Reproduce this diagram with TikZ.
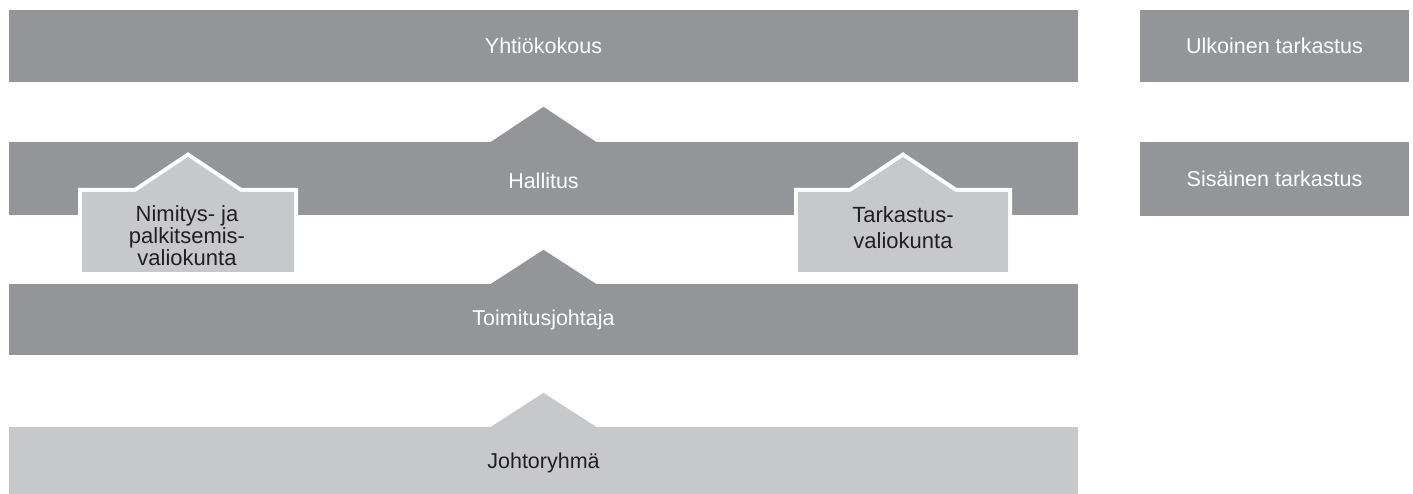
\documentclass[tikz,border=0pt]{standalone}
\usepackage{fontspec}
\setmainfont{Liberation Sans}
\definecolor{darkg}{HTML}{939598}
\definecolor{lightg}{HTML}{C7C8CA}
\definecolor{ink}{HTML}{231F20}
\tikzset{
  bar/.style={fill=darkg, draw=none, inner sep=0pt, text=white, font=\fontsize{21.5}{25}\selectfont},
  lbar/.style={fill=lightg, draw=none, inner sep=0pt, text=ink, font=\fontsize{21.5}{25}\selectfont},
  boxtext/.style={inner sep=0pt, text=ink, align=center, font=\fontsize{22}{22}\selectfont},
  arr/.style={fill=darkg},
  larr/.style={fill=lightg},
  roofbox/.style={fill=lightg, preaction={draw=white, line width=8pt, line join=miter}}
}
\begin{document}
\begin{tikzpicture}[x=1pt,y=-1pt]
\useasboundingbox (0,0) rectangle (1413,494);
\begin{scope}
\clip (0,0) rectangle (1413,494);
% main bars
\node[bar, minimum width=1069pt, minimum height=72pt] (yk) at (543.5,46) {Yhtiökokous};
\node[bar, minimum width=1069pt, minimum height=73pt] (hal) at (543.5,178.5) {};
\node[bar, minimum width=1069pt, minimum height=71pt] (toj) at (543.5,319.5) {Toimitusjohtaja};
\node[lbar, minimum width=1069pt, minimum height=72pt] (jr) at (543.5,463) {Johtoryhmä};
% right boxes
\node[bar, minimum width=269pt, minimum height=72pt] (ulk) at (1274.5,46) {Ulkoinen tarkastus};
\node[bar, minimum width=269pt, minimum height=74pt] (sis) at (1274.5,179) {Sisäinen tarkastus};
% arrows
\fill[arr] ([xshift=-52.5pt]hal.north) -- ([yshift=35pt]hal.north) -- ([xshift=52.5pt]hal.north) -- cycle;
\fill[arr] ([xshift=-52.5pt]toj.north) -- ([yshift=34pt]toj.north) -- ([xshift=52.5pt]toj.north) -- cycle;
\fill[larr] ([xshift=-52.5pt]jr.north) -- ([yshift=34pt]jr.north) -- ([xshift=52.5pt]jr.north) -- cycle;
\node[bar, fill=none] (halt) at (543.5,181) {Hallitus};
% committee boxes
\path[roofbox] (82,272) -- (82,192) -- (135.5,192) -- (188,157) -- (240.5,192) -- (294,192) -- (294,272) -- cycle;
\node[boxtext] (nim) at (187,236) {Nimitys- ja\\palkitsemis-\\valiokunta};
\path[roofbox] (798,272) -- (798,192) -- (850.5,192) -- (903,157) -- (955.5,192) -- (1008,192) -- (1008,272) -- cycle;
\node[boxtext, font=\fontsize{22}{26}\selectfont] (tark) at (903,228) {Tarkastus-\\valiokunta};
\end{scope}
\end{tikzpicture}
\end{document}
